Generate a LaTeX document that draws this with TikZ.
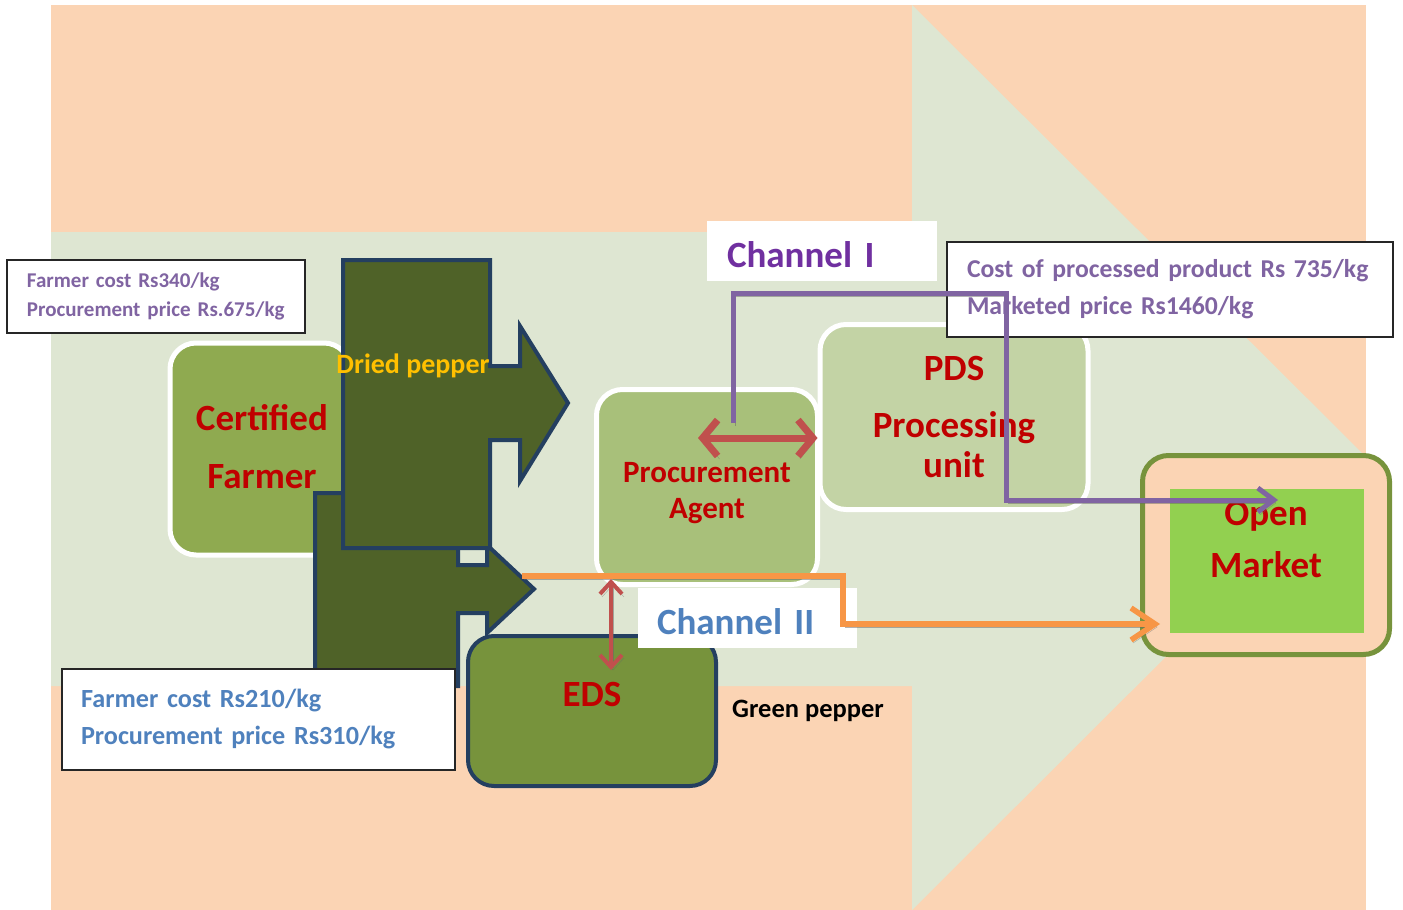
\documentclass[tikz,border=0pt]{standalone}
\usepackage{fontspec}
\setmainfont{Carlito}
\usetikzlibrary{arrows.meta}
\definecolor{peach}{RGB}{251,212,180}
\definecolor{paleolive}{RGB}{222,230,210}
\definecolor{farmgreen}{RGB}{143,170,80}
\definecolor{agentgreen}{RGB}{168,192,122}
\definecolor{pdsgreen}{RGB}{195,211,165}
\definecolor{edsgreen}{RGB}{119,147,60}
\definecolor{darkolive}{RGB}{79,98,40}
\definecolor{navy}{RGB}{36,63,96}
\definecolor{mktgreen}{RGB}{146,208,80}
\definecolor{boxred}{RGB}{192,0,0}
\definecolor{lilac}{RGB}{128,100,162}
\definecolor{chpurple}{RGB}{112,48,160}
\definecolor{chblue}{RGB}{79,129,189}
\definecolor{gold}{RGB}{255,192,0}
\definecolor{redarrow}{RGB}{192,80,77}
\definecolor{orangeline}{RGB}{247,150,70}

\begin{document}
\begin{tikzpicture}[x=1pt, y=-1pt,
 stage/.style args = {#1/#2}{%
      rectangle, rounded corners=26pt, draw=#2, fill=#1, line width=5pt,
      font=\fontsize{37}{58}\selectfont\bfseries, text=boxred, align=center},
 note/.style args = {#1/#2}{%
      rectangle, draw=black!85, line width=1.3pt, fill=white,
      inner xsep=20pt, inner ysep=0pt, text width=#1, align=left, text=#2},
 tag/.style = {rectangle, fill=white, inner xsep=20pt, inner ysep=0pt,
      text height=32pt, text depth=0pt, minimum height=60pt, align=left,
      font=\fontsize{37}{44}\selectfont\bfseries},
 redtext/.style = {text=boxred, align=center, font=\fontsize{37}{52}\selectfont\bfseries},
 pepper/.style = {draw=navy, fill=darkolive, line width=4pt, line join=miter},
 shade/.style = {preaction={draw=black!60, opacity=.5,
      transform canvas={xshift=2pt, yshift=-3pt}}},
 chone/.style = {shade, draw=lilac, line width=5pt,
      -{Straight Barb[length=16pt, width=24pt]}},
 chtwo/.style = {shade, draw=orangeline, line width=5.5pt,
      -{Straight Barb[length=24pt, width=32pt]}},
 trade/.style = {shade, draw=redarrow}
                    ]
\useasboundingbox (0,0) rectangle (1403,910);
% backdrop
\fill[peach] (51,5) rectangle (1366,910);
\fill[paleolive] (51,232) -- (912,232) -- (912,5) -- (1366,457)
      -- (912,910) -- (912,686) -- (51,686) -- cycle;
%
\node(farmer) [stage=farmgreen/white, minimum width=180pt, minimum height=212pt]
      at (260,449) {};
\node(farmtext) [redtext, font=\fontsize{37}{58}\selectfont\bfseries]
      at (262,447) {Certified\\Farmer};
% pepper arrows
\draw[pepper] (315,493) -- (458,493) -- (458,565) -- (487,565) -- (487,545)
      -- (534,589) -- (487,633) -- (487,613) -- (458,613) -- (458,686)
      -- (315,686) -- cycle;
\draw[pepper] (343,260) -- (490,260) -- (490,366) -- (520,366) -- (520,326)
      -- (568,403) -- (520,481) -- (520,440) -- (490,440) -- (490,548)
      -- (343,548) -- cycle;
\node(dried) [text=gold, font=\fontsize{28}{30}\selectfont\bfseries]
      at (413,366) {Dried pepper};
%
\node(agent) [stage=agentgreen/white, minimum width=221pt, minimum height=195pt]
      at (707,487) {};
\node(agenttext) [redtext, font=\fontsize{31}{36}\selectfont\bfseries]
      at (707,493) {Procurement\\Agent};
\node(pds) [stage=pdsgreen/white, minimum width=268pt, minimum height=185pt,
      font=\fontsize{37}{40}\selectfont\bfseries] at (954,417)
      {PDS\\[17pt]Processing\\unit};
\node(market) [stage=peach/edsgreen, minimum width=247pt, minimum height=199pt]
      at (1266,555) {};
\node(mktin) [rectangle, fill=mktgreen, minimum width=194pt, minimum height=144pt]
      at (1267,561) {};
\node(mkttext) [redtext] at (1266,539) {Open\\Market};
\node(eds) [stage=edsgreen/navy, line width=4pt, minimum width=248pt,
      minimum height=150pt] at (592,711) {};
\node(edstext) [redtext] at (592,694) {EDS};
% price notes
\node(costa) [note=258pt/lilac, minimum height=73pt,
      font=\fontsize{21}{29}\selectfont\bfseries] at (156,296.5)
      {Farmer cost Rs340/kg\\Procurement price Rs.675/kg};
\node(costc) [note=406pt/lilac, minimum height=95pt,
      font=\fontsize{25.7}{37}\selectfont\bfseries] at (1170,289.5)
      {Cost of processed product Rs 735/kg\\Marketed price Rs1460/kg};
\node(costb) [note=355pt/chblue, inner xsep=19pt, minimum height=101pt,
      font=\fontsize{26.2}{37}\selectfont\bfseries] at (258.5,719.5)
      {Farmer cost Rs210/kg\\Procurement price Rs310/kg};
\node(chI) [tag, text=chpurple, text width=190pt] at (822,251) {Channel I};
\node(chII) [tag, text=chblue, inner xsep=19pt, text width=181pt]
      at (747.5,618) {Channel II};
\node(green) [font=\fontsize{26.5}{30}\selectfont\bfseries] at (808,711) {Green pepper};
% channels
\coordinate (c1a) at (733,423);
\coordinate (c1b) at (1006,293);
\coordinate (c1e) at (1278,500);
\draw[chone] (c1a) |- (c1b) |- (c1e);
\coordinate (c2a) at (522,576);
\coordinate (c2b) at (843,624);
\coordinate (c2e) at (1160,624);
\draw[chtwo] (c2a) -| (c2b) -- (c2e);
\coordinate (ra) at (698,438);
\draw[trade, line width=7pt, {Straight Barb[length=15pt, width=36pt]}-{Straight Barb[length=15pt, width=36pt]}]
      (ra) -- (ra -| pds.west);
\coordinate (rv) at (611,579);
\coordinate (rw) at (611,670);
\draw[trade, line width=4pt, {Straight Barb[length=12pt, width=22pt]}-{Straight Barb[length=12pt, width=22pt]}]
      (rv) -- (rw);
\end{tikzpicture}
\end{document}
